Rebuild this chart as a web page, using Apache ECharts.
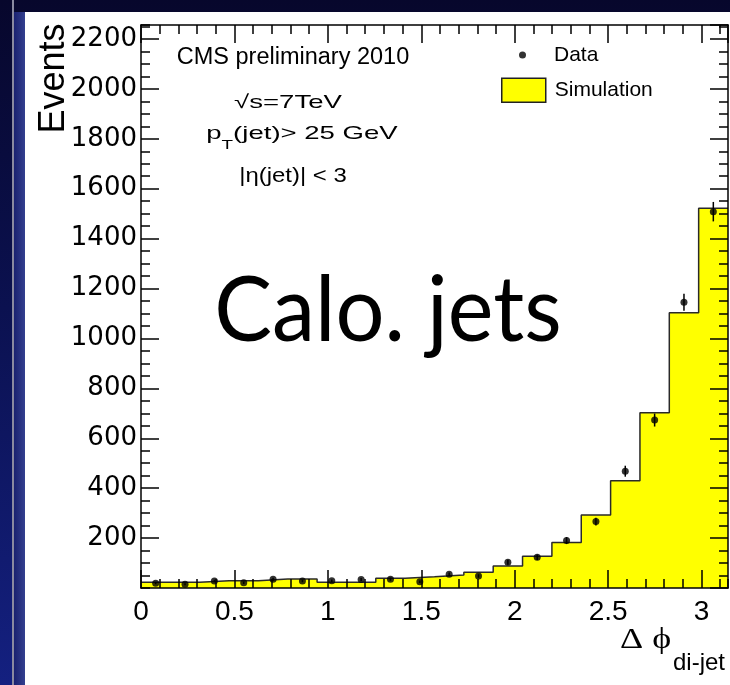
<!DOCTYPE html>
<html>
<head>
<meta charset="utf-8">
<script src="https://cdn.jsdelivr.net/npm/echarts@6/dist/echarts.min.js"></script>
<style>
  html, body { margin: 0; padding: 0; }
  body {
    width: 730px; height: 685px; overflow: hidden;
    background: linear-gradient(180deg, #07072c 0%, #0b1150 45%, #142080 100%);
  }
  #chart { position: absolute; left: 0; top: 0; width: 730px; height: 685px; }
</style>
</head>
<body>
<div id="chart"></div>
<script>
// Delta-phi between the two leading calorimeter jets, 20 equal bins over [0, pi]
const PHI_MAX = Math.PI;
const BIN_COUNT = 20;
const Y_MAX = 2256;

// Monte Carlo expectation per bin
const simulation = [23, 23, 29, 29, 36, 36, 23, 23, 39, 45, 52, 63, 88, 127, 182, 293, 430, 702, 1103, 1522];
// Observed events per bin and their statistical uncertainty
const dataCounts = [19, 15, 28, 21, 35, 28, 29, 34, 35, 25, 55, 48, 103, 123, 190, 266, 468, 673, 1145, 1508];
const dataErrors = [4, 4, 5, 5, 6, 5, 5, 6, 6, 5, 7, 7, 10, 11, 14, 16, 22, 26, 34, 39];

const legendNames = ['Data', 'Simulation'];
const infoLines = ['CMS preliminary 2010', '\u221As=7TeV', '|\u03b7(jet)| < 3'];

const binWidth = PHI_MAX / BIN_COUNT;
const edge = i => i * binWidth;
const centre = i => (i + 0.5) * binWidth;

// step outline: value of bin i starts at its lower edge, last point closes the final bin
const simSteps = simulation.map((v, i) => [edge(i), v]);
simSteps.push([PHI_MAX, simulation[simulation.length - 1]]);

const dataPoints = dataCounts.map((v, i) => [centre(i), v]);
const errorBars = dataCounts.map((v, i) => [centre(i), v - dataErrors[i], v + dataErrors[i]]);

const INK = '#000';
const SANS = '"Liberation Sans", Arial, Helvetica, sans-serif';
const PLOT = { left: 141, top: 25, width: 587, height: 563 };

// one axis per side and grid: grid 0 carries the major ticks, grid 1 the minor ones
function frameAxis(dim, grid, position, interval, tickLen, opts) {
  const ax = {
    type: 'value',
    gridIndex: grid,
    position: position,
    min: 0,
    max: dim === 'x' ? PHI_MAX : Y_MAX,
    interval: interval,
    z: 5,
    splitLine: { show: false },
    axisLine: { show: opts.line, onZero: false, lineStyle: { color: INK, width: 1.5 } },
    axisTick: { show: true, inside: true, length: tickLen, lineStyle: { color: INK, width: 1.5 } },
    axisLabel: { show: false }
  };
  if (opts.labels) ax.axisLabel = opts.labels;
  return ax;
}

const chart = echarts.init(document.getElementById('chart'), null, { renderer: 'canvas' });

const option = {
  animation: false,
  backgroundColor: 'transparent',
  grid: [
    Object.assign({ containLabel: false }, PLOT),
    Object.assign({ containLabel: false }, PLOT)
  ],
  xAxis: [
    frameAxis('x', 0, 'bottom', 0.5, 18, {
      line: true,
      labels: { show: true, color: INK, fontSize: 28, fontFamily: SANS, margin: 10,
                showMaxLabel: false, formatter: v => String(v) }
    }),
    frameAxis('x', 0, 'top', 0.5, 18, { line: true }),
    frameAxis('x', 1, 'bottom', 0.1, 9, { line: false }),
    frameAxis('x', 1, 'top', 0.1, 9, { line: false })
  ],
  yAxis: [
    frameAxis('y', 0, 'left', 200, 18, {
      line: true,
      labels: { show: true, color: INK, fontSize: 26, fontFamily: '"DejaVu Sans", sans-serif', margin: 4,
                showMinLabel: false, showMaxLabel: false, formatter: v => String(v) }
    }),
    frameAxis('y', 0, 'right', 200, 18, { line: true }),
    frameAxis('y', 1, 'left', 50, 9, { line: false }),
    frameAxis('y', 1, 'right', 50, 9, { line: false })
  ],
  legend: [
    {
      data: [{ name: legendNames[0], icon: 'circle' }],
      left: 519, top: 44.5, padding: 0,
      itemWidth: 7, itemHeight: 7,
      selectedMode: false,
      textStyle: { color: INK, fontSize: 21, fontFamily: SANS, padding: [0, 0, 0, 23] }
    },
    {
      data: [{ name: legendNames[1], icon: 'rect',
               itemStyle: { color: '#ffff00', borderColor: '#222', borderWidth: 1.5 } }],
      left: 501, top: 77.5, padding: 0,
      itemWidth: 44, itemHeight: 24,
      selectedMode: false,
      textStyle: { color: INK, fontSize: 21, fontFamily: SANS, padding: [0, 0, 0, 4] }
    }
  ],
  graphic: [
    // slide frame: white panel, grey rule and lighter band on the left
    { type: 'rect', z: -10, shape: { x: 14, y: 12, width: 11, height: 673 },
      style: { fill: new echarts.graphic.LinearGradient(0, 0, 1, 0, [
        { offset: 0, color: '#1a2170' }, { offset: 1, color: '#34408f' }]) } },
    { type: 'rect', z: -10, shape: { x: 12, y: 0, width: 2, height: 685 }, style: { fill: '#8a8aa0' } },
    { type: 'rect', z: -10, shape: { x: 25, y: 12, width: 705, height: 673 }, style: { fill: '#ffffff' } },

    // run information
    { type: 'text', x: 293, y: 58, z: 10,
      style: { text: infoLines[0], fill: INK, fontSize: 23.5, fontFamily: SANS, align: 'center', verticalAlign: 'middle' } },
    { type: 'text', x: 288, y: 102.5, z: 10, scaleX: 1.45,
      style: { text: infoLines[1], fill: INK, fontSize: 19, fontFamily: SANS, align: 'center', verticalAlign: 'middle' } },
    { type: 'text', x: 302, y: 134, z: 10, scaleX: 1.45,
      style: {
        text: '{m|p}{s|T}{m|(jet)> 25 GeV}',
        fill: INK, fontFamily: SANS, align: 'center', verticalAlign: 'middle',
        rich: {
          m: { fontSize: 19, lineHeight: 19, fontFamily: SANS, verticalAlign: 'top' },
          s: { fontSize: 13, lineHeight: 13, fontFamily: SANS, verticalAlign: 'top', padding: [14, 0, 0, 0] }
        }
      } },
    { type: 'text', x: 293, y: 176.5, z: 10, scaleX: 1.14,
      style: { text: infoLines[2], fill: INK, fontSize: 21, fontFamily: SANS, align: 'center', verticalAlign: 'middle' } },

    // jet collection title
    { type: 'text', x: 388, y: 311, z: 10, scaleX: 0.94,
      style: { text: 'Calo. jets', fill: INK, fontSize: 92, fontFamily: 'Lato, "Open Sans", sans-serif',
               align: 'center', verticalAlign: 'middle' } },

    // axis titles
    { type: 'text', x: 54, y: 78.5, z: 10, rotation: Math.PI / 2,
      style: { text: 'Events', fill: INK, fontSize: 36, fontFamily: SANS, align: 'center', verticalAlign: 'middle' } },
    { type: 'text', x: 620, y: 640, z: 10, scaleX: 1.2,
      style: { text: '\u0394 \u03d5', fill: INK, fontSize: 30, fontFamily: '"Liberation Serif", "Times New Roman", serif',
               align: 'left', verticalAlign: 'middle' } },
    { type: 'text', x: 673, y: 663, z: 10,
      style: { text: 'di-jet', fill: INK, fontSize: 24, fontFamily: SANS, align: 'left', verticalAlign: 'middle' } }
  ],
  series: [
    {
      name: legendNames[1],
      type: 'line',
      xAxisIndex: 0, yAxisIndex: 0,
      step: 'end',
      data: simSteps,
      symbol: 'none',
      z: 2,
      lineStyle: { color: '#2a2a2a', width: 1.5 },
      itemStyle: { color: '#ffff00' },
      areaStyle: { color: '#ffff00', opacity: 1 }
    },
    {
      name: 'errors',
      type: 'custom',
      xAxisIndex: 0, yAxisIndex: 0,
      z: 3,
      data: errorBars,
      encode: { x: 0, y: [1, 2] },
      renderItem: function (params, api) {
        const lo = api.coord([api.value(0), api.value(1)]);
        const hi = api.coord([api.value(0), api.value(2)]);
        return { type: 'line', shape: { x1: lo[0], y1: lo[1], x2: hi[0], y2: hi[1] },
                 style: { stroke: INK, lineWidth: 1.5 } };
      }
    },
    {
      name: legendNames[0],
      type: 'scatter',
      xAxisIndex: 0, yAxisIndex: 0,
      z: 4,
      data: dataPoints,
      symbol: 'circle',
      symbolSize: 7,
      itemStyle: { color: INK }
    }
  ]
};

chart.setOption(option);
</script>
</body>
</html>
